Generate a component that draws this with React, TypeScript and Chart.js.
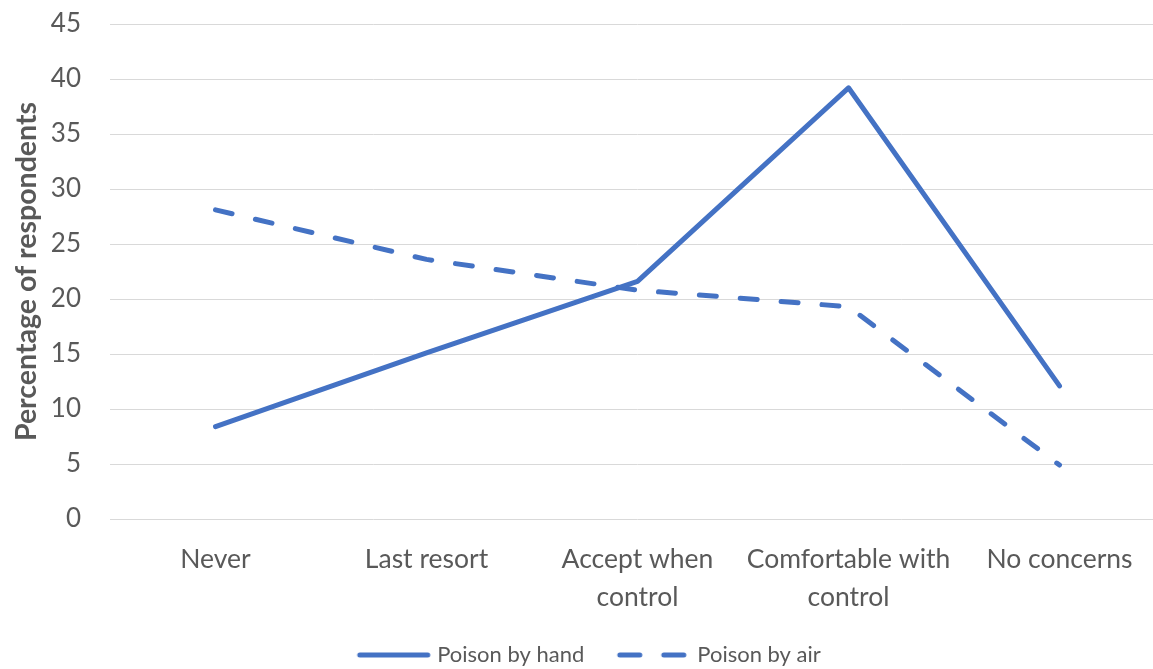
import React, { useEffect, useRef } from "react";
import { Chart, registerables } from "chart.js";

Chart.register(...registerables);

const categories: (string | string[])[] = [
  "Never",
  "Last resort",
  ["Accept when", "control"],
  ["Comfortable with", "control"],
  "No concerns",
];
const poisonByHand = [8.4, 15.1, 21.6, 39.2, 12.1];
const poisonByAir = [28.1, 23.6, 20.8, 19.3, 4.9];
const yTicks = [0, 5, 10, 15, 20, 25, 30, 35, 40, 45];

const BLUE = "#4472C4";
const TEXT = "#595959";
const GRID = "#d9d9d9";
const FONT = "Lato, 'Open Sans', sans-serif";
const LINE_W = 5;
const DASH = [17, 24];

function legendSwatch(dash: number[]): HTMLCanvasElement {
  const c = document.createElement("canvas");
  c.width = 76;
  c.height = 10;
  const ctx = c.getContext("2d")!;
  ctx.strokeStyle = BLUE;
  ctx.lineWidth = LINE_W;
  ctx.lineCap = "round";
  ctx.setLineDash(dash);
  ctx.beginPath();
  ctx.moveTo(4, 5);
  ctx.lineTo(72, 5);
  ctx.stroke();
  return c;
}

export default function App() {
  const ref = useRef<HTMLCanvasElement | null>(null);

  useEffect(() => {
    if (!ref.current) return;
    const swatches = [legendSwatch([]), legendSwatch([20, 24])];
    const chart = new Chart(ref.current, {
      type: "line",
      data: {
        labels: categories,
        datasets: [
          {
            label: "Poison by hand",
            data: poisonByHand,
            borderColor: BLUE,
            backgroundColor: BLUE,
            borderWidth: LINE_W,
            borderCapStyle: "round",
            borderJoinStyle: "round",
            pointRadius: 0,
            pointHoverRadius: 0,
            tension: 0,
            fill: false,
          },
          {
            label: "Poison by air",
            data: poisonByAir,
            borderColor: BLUE,
            backgroundColor: BLUE,
            borderWidth: LINE_W,
            borderDash: DASH,
            borderCapStyle: "round",
            borderJoinStyle: "round",
            pointRadius: 0,
            pointHoverRadius: 0,
            tension: 0,
            fill: false,
          },
        ],
      },
      options: {
        responsive: false,
        animation: false,
        layout: { padding: { top: 24, right: 5, bottom: 0, left: 17 } },
        plugins: {
          tooltip: { enabled: false },
          legend: {
            position: "bottom",
            labels: {
              usePointStyle: true,
              pointStyleWidth: 65,
              padding: 37,
              color: TEXT,
              font: { family: FONT, size: 22 },
              generateLabels: (ch: any) =>
                ch.data.datasets.map((ds: any, i: number) => ({
                  text: ds.label,
                  datasetIndex: i,
                  pointStyle: swatches[i],
                  fillStyle: BLUE,
                  strokeStyle: BLUE,
                  lineWidth: 0,
                  fontColor: TEXT,
                  hidden: false,
                })),
            },
          },
        },
        scales: {
          x: {
            offset: true,
            grid: { display: false, drawTicks: false },
            border: { display: false },
            ticks: {
              color: TEXT,
              padding: 22,
              maxRotation: 0,
              autoSkip: false,
              font: { family: FONT, size: 26.5, lineHeight: 1.43 },
            },
            afterFit: (s: any) => {
              s.height = 88;
            },
          },
          y: {
            min: 0,
            max: 45,
            afterBuildTicks: (s: any) => {
              s.ticks = yTicks.map((v) => ({ value: v }));
            },
            grid: { color: GRID, lineWidth: 1, drawTicks: false },
            border: { display: false },
            ticks: {
              color: TEXT,
              padding: 29,
              font: { family: FONT, size: 26 },
            },
            title: {
              display: true,
              text: "Percentage of respondents",
              color: TEXT,
              padding: { top: -7, bottom: 0 },
              font: { family: FONT, size: 28.5, weight: "bold" },
            },
            afterFit: (s: any) => {
              s.width = 93;
              s.paddingTop = 0;
              s.paddingBottom = 0;
            },
          },
        },
      },
    });
    return () => chart.destroy();
  }, []);

  return (
    <div
      style={{
        position: "fixed",
        left: 0,
        top: 0,
        width: 1153,
        height: 669,
        overflow: "hidden",
        background: "#ffffff",
      }}
    >
      <canvas
        ref={ref}
        width={1170}
        height={676}
        style={{ width: 1170, height: 676, display: "block" }}
      />
    </div>
  );
}
